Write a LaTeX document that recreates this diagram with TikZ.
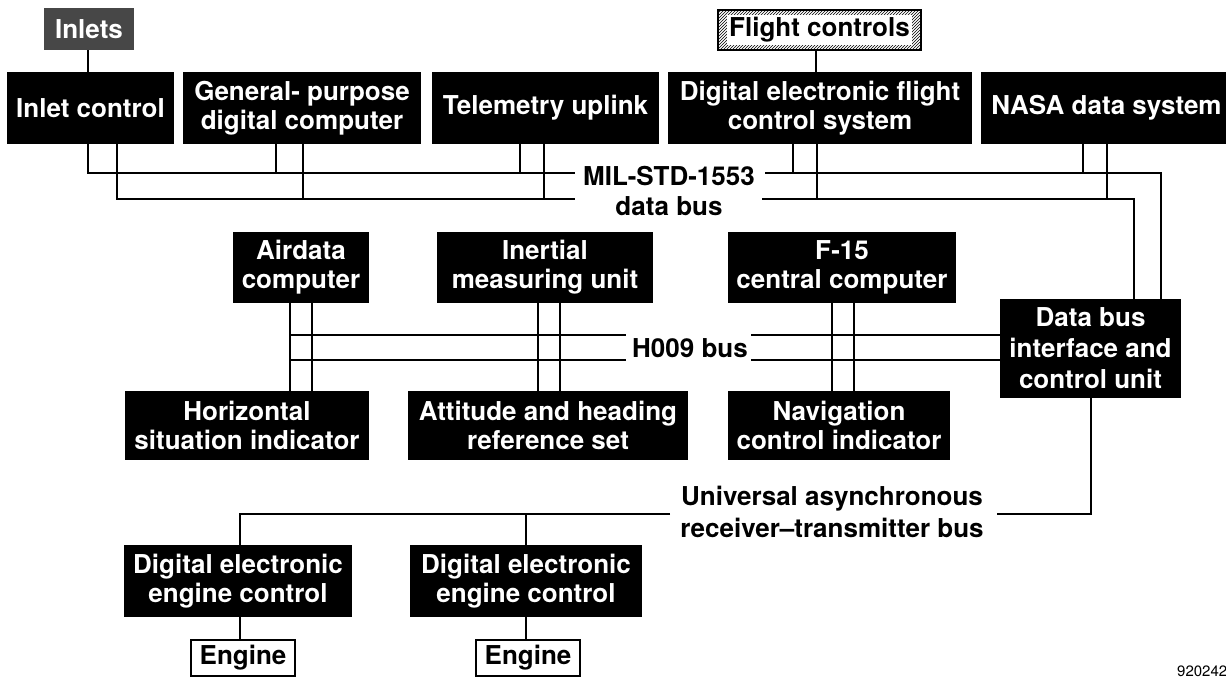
\documentclass[tikz,border=0pt]{standalone}
\usepackage{fontspec}
\setmainfont{TeX Gyre Heros}
\usetikzlibrary{patterns}
\begin{document}
\begin{tikzpicture}[x=1pt,y=-1pt,
  blk/.style={fill=black, text=white, font=\bfseries\fontsize{26}{29}\selectfont, align=center, inner sep=0pt},
  buslbl/.style={font=\bfseries\fontsize{26}{30}\selectfont, align=center, inner sep=0pt},
  hatchbox/.style={draw=black, line width=1.5pt, pattern=north east lines, font=\bfseries\fontsize{26}{29}\selectfont, inner sep=0pt},
  engbox/.style={draw=black, line width=2pt, fill=white, font=\bfseries\fontsize{26}{28}\selectfont, inner sep=0pt},
  wire/.style={line width=2.2pt}]
\useasboundingbox (0,0) rectangle (1226,677);
% top row
\node[blk, fill=black!72, minimum width=90pt, minimum height=42pt] (inlets) at (89,29) {Inlets};
\node[hatchbox, minimum width=203pt, minimum height=40pt] (fc) at (819.5,30) {\setlength\fboxsep{2pt}\colorbox{white}{Flight controls}};
\node[blk, minimum width=167pt, minimum height=72pt] (inletctl) at (90.5,108) {Inlet control};
\node[blk, minimum width=238pt, minimum height=72pt] (gpc) at (302,108) {General- purpose\\digital computer};
\node[blk, minimum width=227pt, minimum height=72pt] (tel) at (545.5,108) {Telemetry uplink};
\node[blk, minimum width=304pt, minimum height=72pt] (defcs) at (820,108) {Digital electronic flight\\control system};
\node[blk, minimum width=251pt, minimum height=72pt] (nasa) at (1106.5,108) {NASA data system};
% middle row
\node[blk, minimum width=136pt, minimum height=71pt] (airdata) at (301,267.5) {Airdata\\computer};
\node[blk, minimum width=216pt, minimum height=71pt] (imu) at (545,267.5) {Inertial\\measuring unit};
\node[blk, minimum width=228pt, minimum height=71pt] (f15) at (842,267.5) {F-15\\central computer};
\node[blk, minimum width=181pt, minimum height=99pt, font=\bfseries\fontsize{26}{31}\selectfont] (dbus) at (1090.5,348.5) {Data bus\\interface and\\control unit};
\node[blk, minimum width=244pt, minimum height=69pt] (hsi) at (247,425.5) {Horizontal\\situation indicator};
\node[blk, minimum width=280pt, minimum height=69pt] (ahrs) at (548,425.5) {Attitude and heading\\reference set};
\node[blk, minimum width=222pt, minimum height=69pt] (nci) at (839,425.5) {Navigation\\control indicator};
% bottom row
\node[blk, minimum width=228pt, minimum height=72pt] (deec1) at (238,581) {Digital electronic\\engine control};
\node[blk, minimum width=232pt, minimum height=72pt] (deec2) at (526,581) {Digital electronic\\engine control};
\node[engbox, minimum width=104pt, minimum height=36pt] (eng1) at (243,658) {Engine};
\node[engbox, minimum width=104pt, minimum height=36pt] (eng2) at (528,658) {Engine};
% bus labels
\node[buslbl] (milstd) at (669,190.5) {MIL-STD-1553\\data bus};
\node[buslbl] (h009) at (690,348) {H009 bus};
\node[buslbl, font=\bfseries\fontsize{26}{32}\selectfont] (uart) at (832,512) {Universal asynchronous\\receiver--transmitter bus};
\node[anchor=west, font=\fontsize{15}{17}\selectfont, inner sep=0pt] (num) at (1177,671) {920242};
% top connectors
\draw[wire] (88,0 |- inlets.south) -- (88,0 |- inletctl.north);
\draw[wire] (816,0 |- fc.south) -- (816,0 |- defcs.north);
% MIL-STD-1553 bus
\coordinate (u1) at (88,173); \coordinate (uL) at (575,173);
\coordinate (uR) at (765,173); \coordinate (u2) at (1161,173);
\coordinate (l1) at (117,199); \coordinate (lL) at (575,199);
\coordinate (lR) at (762,199); \coordinate (l2) at (1134,199);
\draw[wire] (88,0 |- inletctl.south) -- (u1) -- (uL);
\draw[wire] (uR) -- (u2) -- (1161,0 |- dbus.north);
\draw[wire] (117,0 |- inletctl.south) -- (l1) -- (lL);
\draw[wire] (lR) -- (l2) -- (1134,0 |- dbus.north);
\foreach \n/\a/\b in {gpc/276/303, tel/520/544, defcs/793/817, nasa/1083/1107} {
  \draw[wire] (\a,0 |- \n.south) -- (\a,173);
  \draw[wire] (\b,0 |- \n.south) -- (\b,199);
}
% H009 bus
\draw[wire] (290,335) -- (626,335);
\draw[wire] (751,335) -- (dbus.west |- 0,335);
\draw[wire] (290,360) -- (626,360);
\draw[wire] (751,360) -- (dbus.west |- 0,360);
\foreach \t/\s/\a/\b in {airdata/hsi/290/312, imu/ahrs/538/560, f15/nci/832/854} {
  \draw[wire] (\a,0 |- \t.south) -- (\a,0 |- \s.north);
  \draw[wire] (\b,0 |- \t.south) -- (\b,0 |- \s.north);
}
% UART bus
\draw[wire] (1091,0 |- dbus.south) |- (997,514);
\draw[wire] (670,514) -- (240,514) -- (240,0 |- deec1.north);
\draw[wire] (526,514) -- (526,0 |- deec2.north);
\draw[wire] (240,0 |- deec1.south) -- (240,0 |- eng1.north);
\draw[wire] (526,0 |- deec2.south) -- (526,0 |- eng2.north);
\end{tikzpicture}
\end{document}
